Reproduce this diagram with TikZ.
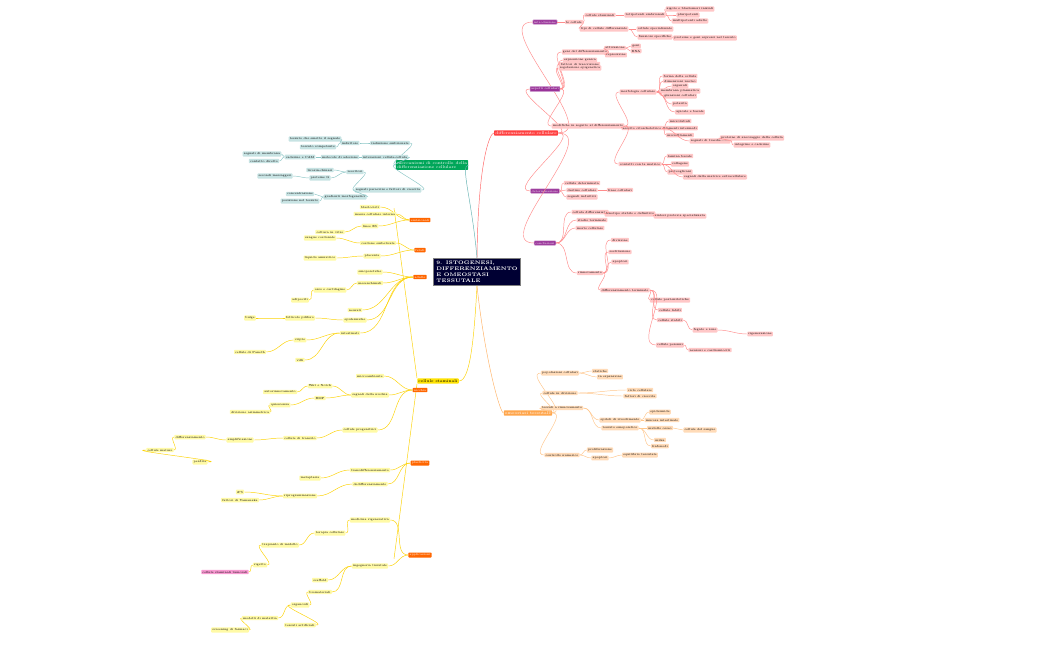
\documentclass[tikz,border=0pt]{standalone}
\usepackage{tikz}
\tikzset{
  tiny/.style={font=\fontsize{2.2}{2.6}\selectfont, inner sep=0.9pt, rounded corners=0.6pt, align=left},
  leafR/.style={tiny, fill=red!22},
  leafC/.style={tiny, fill=cyan!25},
  leafG/.style={tiny, fill=teal!22},
  leafY/.style={tiny, fill=yellow!35},
  leafO/.style={tiny, fill=orange!28},
  hubP/.style={tiny, fill=violet!80, text=white, draw=violet!40},
  hubO/.style={tiny, fill=orange!80!red, text=white},
  lnR/.style={draw=red!45, line width=0.35pt},
  lnG/.style={draw=teal!45, line width=0.35pt},
  lnY/.style={draw=yellow!70!orange, line width=0.35pt},
  lnO/.style={draw=orange!45, line width=0.35pt},
}
\begin{document}
\begin{tikzpicture}[x=0.75pt,y=-0.75pt]
\useasboundingbox (0,0) rectangle (1050,650);
% center
\node[fill=blue!20!black, text=white, draw=gray, font=\fontsize{3.8}{4.6}\selectfont\bfseries, align=left, inner sep=2pt] (C) at (477,272) {9. ISTOGENESI,\\DIFFERENZIAMENTO\\E OMEOSTASI\\TESSUTALE};
% main hubs
\node[tiny, fill=red!75, text=white, font=\fontsize{3}{3.5}\selectfont] (R) at (526,133) {differenziamento cellulare};
\node[tiny, fill=teal!70!green, text=white, font=\fontsize{3}{3.5}\selectfont] (G) at (432,165) {meccanismi di controllo della\\differenziazione cellulare};
\node[tiny, fill=yellow!85!orange, font=\fontsize{3}{3.5}\selectfont] (Y) at (438,381) {cellule staminali};
\node[tiny, fill=orange!70, text=white, font=\fontsize{3}{3.5}\selectfont] (O) at (528,413) {omeostasi tessutale};
\draw[lnR, red!60] (C.north) .. controls (478,160) and (490,133) .. (R.west);
\draw[lnG, teal!60] (C.north) .. controls (472,200) and (460,165) .. (G.east);
\draw[lnY] (C.south) .. controls (474,340) and (470,381) .. (Y.east);
\draw[lnO, orange!60] (C.south) .. controls (485,360) and (500,413) .. (O.west);
% red branch: purple hubs
\foreach \n/\y/\t in {P1/22/introduzione, P2/89/aspetti cellulari, P3/191/determinazione, P4/243/conclusioni}{
  \node[hubP] (\n) at (545,\y) {\t};
  \draw[lnR] (R.east) to[out=0,in=180] (\n.west);
}
\foreach \n/\x/\y/\p/\t in {
  a1/574/22/P1/le cellule, a2/600/15/a1/cellule staminali, a3/604/29/a1/tipi di cellule differenziate,
  a4/645/15/a2/totipotenti embrionali, a5/690/9/a4/zigote e blastomeri iniziali, a6/688/15/a4/pluripotenti, a7/690/21/a4/multipotenti adulte,
  a8/655/29/a3/cellule specializzate, a9/655/37/a3/funzioni specifiche, a10/705/38/a9/proteine e geni espressi nel tessuto,
  b1/585/52/P2/geni del differenziamento, b2/580/60/P2/espressione genica, b3/580/64/P2/fattori di trascrizione, b4/580/68/P2/regolazione epigenetica,
  b5/615/48/b1/attivazione, b6/616/55/b1/repressione, b7/636/46/b5/geni, b8/636/51/b5/RNA,
  c1/588/126/P2/modifiche in seguito al differenziamento,
  c2/638/92/c1/morfologia cellulare, c3/642/128/c1/assetto citoscheletrico, c4/640/164/c1/contatti con la matrice,
  c5/680/76/c2/forma della cellula, c6/680/81/c2/dimensioni nucleo, c7/680/86/c2/organuli, c8/680/91/c2/membrana plasmatica, c9/680/96/c2/giunzioni cellulari,
  c10/680/104/c2/polarita, c11/690/112/c2/apicale e basale,
  c12/680/121/c3/microtubuli, c13/680/128/c3/filamenti intermedi, c14/680/135/c3/microfilamenti, c15/710/141/c3/segnali di trasduzione,
  c16/752/138/c15/proteine di ancoraggio della cellula, c17/752/145/c15/integrine e caderine,
  c18/680/156/c4/lamina basale, c19/680/164/c4/collagene, c20/680/172/c4/proteoglicani, c21/715/177/c4/segnali dalla matrice extracellulare,
  d1/582/183/P3/cellula determinata, d2/582/190/P3/destino cellulare, d3/582/197/P3/segnali induttivi, d4/620/190/d2/linee cellulari,
  e1/590/212/P4/cellula differenziata, e2/592/220/P4/stadio terminale, e3/590/228/P4/morte cellulare, e4/590/273/P4/rinnovamento,
  e5/630/214/e1/fenotipo stabile e definitivo, e6/680/216/e5/sintesi proteica specializzata,
  e7/620/240/e4/divisione, e8/620/252/e4/sostituzione, e9/620/262/e4/apoptosi, e10/625/290/e4/differenziamento terminale,
  e11/670/300/e10/cellule post-mitotiche, e12/670/310/e10/cellule labili, e13/670/320/e10/cellule stabili, e14/705/330/e13/fegato e rene,
  e15/670/345/e10/cellule perenni, e16/710/350/e15/neuroni e cardiomiociti, e17/760/334/e14/rigenerazione}
{
  \node[leafR] (\n) at (\x,\y) {\t};
  \draw[lnR] (\p.east) to[out=0,in=180] (\n.west);
}
% orange branch
\foreach \n/\x/\y/\p/\t in {
  o1/560/373/O/popolazioni cellulari, o2/560/393/O/cellule in divisione, o3/562/408/O/tessuti a rinnovamento, o4/562/455/O/controllo numerico,
  o5/600/371/o1/statiche, o6/610/377/o1/in espansione, o7/640/390/o2/ciclo cellulare, o8/640/396/o2/fattori di crescita,
  o9/620/420/o3/epiteli di rivestimento, o10/620/428/o3/tessuto emopoietico, o11/660/412/o9/epidermide, o12/662/420/o9/mucosa intestinale,
  o13/660/428/o10/midollo osseo, o14/700/430/o13/cellule del sangue, o15/660/440/o10/milza, o16/660/446/o10/linfonodi,
  o17/600/450/o4/proliferazione, o18/600/458/o4/apoptosi, o19/640/455/o18/equilibrio tessutale}
{
  \node[leafO] (\n) at (\x,\y) {\t};
  \draw[lnO] (\p.east) to[out=0,in=180] (\n.west);
}
% green branch (to the left)
\foreach \n/\x/\y/\p/\t in {
  g1/390/143/G/induzione embrionale, g2/385/157/G/interazioni cellula-cellula, g3/388/190/G/segnali paracrini e fattori di crescita,
  g4/350/143/g1/induttore, g5/315/139/g4/tessuto che emette il segnale, g6/318/147/g4/tessuto competente,
  g7/340/157/g2/molecole di adesione, g8/300/157/g7/caderine e CAM, g9/262/154/g8/segnali di membrana, g10/264/161/g8/contatto diretto,
  g11/355/172/g3/recettori, g12/320/170/g11/tirosin-chinasi, g13/320/178/g11/proteine G, g14/275/176/g13/secondi messaggeri,
  g15/345/197/g3/gradienti morfogenetici, g16/300/194/g15/concentrazione, g17/300/201/g15/posizione nel tessuto}
{
  \node[leafG] (\n) at (\x,\y) {\t};
  \draw[lnG] (\p.west) to[out=180,in=0] (\n.east);
}
% yellow branch: trunk with orange sub hubs
\draw[lnY] (Y.north west) -- ++(-23,-170);
\draw[lnY] (Y.south west) -- ++(-23,175);
\foreach \n/\y/\t in {H1/220/embrionali, H2/250/fetali, H3/277/adulte, H4/390/nicchia, H5/463/plasticita, H6/555/applicazioni}{
  \node[hubO] (\n) at (420,\y) {\t};
}
\foreach \n/\x/\y/\p/\t in {
  y1/370/207/H1/blastocisti, y2/375/214/H1/massa cellulare interna, y3/370/226/H1/linee ES, y4/330/232/y3/coltura in vitro,
  y5/378/243/H2/cordone ombelicale, y6/372/256/H2/placenta, y7/320/238/y5/sangue cordonale, y8/320/258/y6/liquido amniotico,
  y9/370/272/H3/emopoietiche, y10/370/283/H3/mesenchimali, y11/330/290/y10/osso e cartilagine, y12/300/300/y11/adipociti,
  y13/355/310/H3/neurali, y14/355/320/H3/epidermiche, y15/300/318/y14/follicolo pilifero, y16/250/318/y15/bulge,
  y17/350/333/H3/intestinali, y18/300/340/y17/cripte, y19/250/352/y18/cellule di Paneth, y20/300/360/y17/villi,
  y21/370/376/H4/microambiente, y22/370/395/H4/segnali della nicchia, y23/320/386/y22/Wnt e Notch, y24/320/398/y22/BMP,
  y25/280/392/y23/autorinnovamento, y26/280/405/y24/quiescenza, y27/250/412/y26/divisione asimmetrica,
  y28/360/430/H4/cellule progenitrici, y29/300/438/y28/cellule di transito, y30/240/440/y29/amplificazione,
  y31/190/437/y30/differenziamento, y32/160/450/y31/cellule mature, y33/200/462/y32/perdita,
  y34/370/470/H5/transdifferenziamento, y35/370/484/H5/dedifferenziamento, y36/310/478/y34/metaplasia, y37/300/496/y35/riprogrammazione,
  y38/240/492/y37/iPS, y39/240/500/y37/fattori di Yamanaka, y40/370/520/H6/medicina rigenerativa, y41/330/533/y40/terapia cellulare,
  y42/280/545/y41/trapianto di midollo, y43/260/565/y42/rigetto, y44/370/566/H6/ingegneria tissutale,
  y45/320/580/y44/scaffold, y46/320/592/y44/biomateriali, y47/300/605/y46/organoidi, y48/260/618/y47/modelli di malattia,
  y49/230/630/y48/screening di farmaci, y50/300/625/y47/tessuti artificiali}
{
  \node[leafY] (\n) at (\x,\y) {\t};
  \draw[lnY] (\p.west) to[out=180,in=0] (\n.east);
}
\node[tiny, fill=magenta!40] (pk) at (225,572) {cellule staminali tumorali};
\draw[lnY] (y43.west) to[out=180,in=0] (pk.east);
\end{tikzpicture}
\end{document}
